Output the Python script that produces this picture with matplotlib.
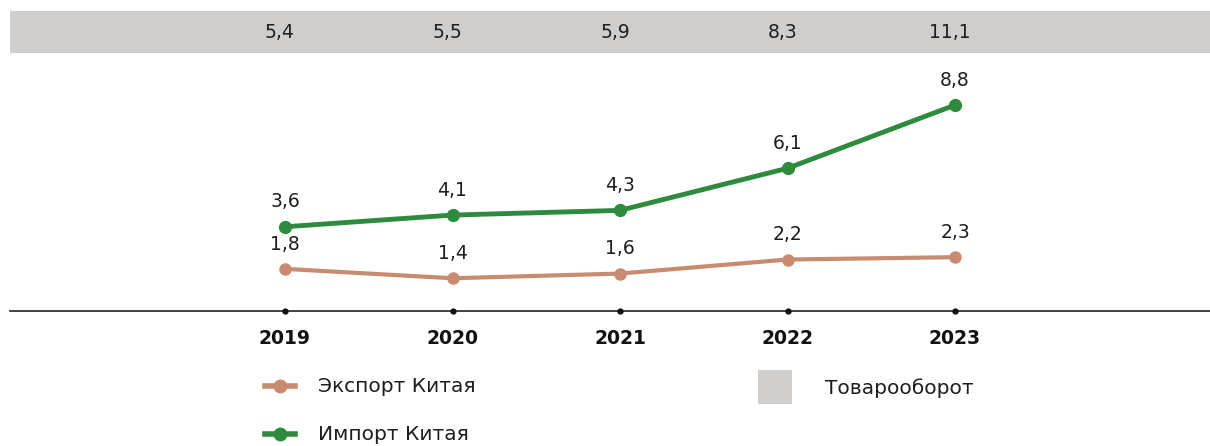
import matplotlib.pyplot as plt
from matplotlib.lines import Line2D
from matplotlib.patches import Rectangle

plt.rcParams['font.family'] = ['DejaVu Sans']

# data
years = ["2019", "2020", "2021", "2022", "2023"]
export_cn = [1.8, 1.4, 1.6, 2.2, 2.3]
import_cn = [3.6, 4.1, 4.3, 6.1, 8.8]
turnover = [5.4, 5.5, 5.9, 8.3, 11.1]

def fmt(v):
    return f"{v:.1f}".replace(".", ",")

c_exp = "#c98b70"
c_imp = "#2e8b3e"
c_band = "#d0cecc"
c_txt = "#1e1e1e"

W, H = 1210, 446
fig = plt.figure(figsize=(W / 100, H / 100), dpi=100)

# axes from x=10..1210 px, y=11..311 px (top coords)
ax = fig.add_axes([10 / W, 1 - 311 / H, 1200 / W, 300 / H])
x = list(range(len(years)))
step = 167.5
ax.set_xlim((10 - 285) / step, (1210 - 285) / step)
ppu = 23.4
ax.set_ylim(0, 300 / ppu)

# gray band with turnover values
ax.axhspan((311 - 53) / ppu, 300 / ppu, color=c_band, lw=0)
for xi, v in zip(x, turnover):
    ax.text(xi - 0.03, (311 - 32) / ppu, fmt(v), ha="center", va="center", fontsize=13.5, color=c_txt)

ax.plot(x, export_cn, color=c_exp, lw=3, marker="o", ms=8, solid_capstyle="round")
ax.plot(x, import_cn, color=c_imp, lw=3.5, marker="o", ms=8.5, solid_capstyle="round")
for xi, v in zip(x, export_cn):
    ax.annotate(fmt(v), (xi, v), xytext=(0, 11), textcoords="offset points",
                ha="center", va="bottom", fontsize=13.5, color=c_txt)
for xi, v in zip(x, import_cn):
    ax.annotate(fmt(v), (xi, v), xytext=(0, 11), textcoords="offset points",
                ha="center", va="bottom", fontsize=13.5, color=c_txt)

# axis line with dot ticks
ax.axhline(0, color="#222222", lw=1.2, clip_on=False)
ax.plot(x, [0] * len(x), "o", color="#111111", ms=3.5, clip_on=False)
for xi, y in zip(x, years):
    ax.text(xi, -27 / ppu, y, ha="center", va="center", fontsize=13.5, fontweight="heavy", color="#111111")

for s in ax.spines.values():
    s.set_visible(False)
ax.set_xticks([])
ax.set_yticks([])

# legend drawn manually in figure pixels
def fx(px):
    return px / W

def fy(py):
    return 1 - py / H

for py, col, lab in [(386, c_exp, "Экспорт Китая"), (434, c_imp, "Импорт Китая")]:
    fig.add_artist(Line2D([fx(265), fx(295)], [fy(py), fy(py)], color=col, lw=4))
    fig.add_artist(Line2D([fx(280)], [fy(py)], color=col, marker="o", ms=9))
    fig.text(fx(318), fy(py), lab, ha="left", va="center", fontsize=14.5, color=c_txt)

fig.add_artist(Rectangle((fx(758), fy(404)), 34 / W, 34 / H, color=c_band, lw=0))
fig.text(fx(825), fy(388), "Товарооборот", ha="left", va="center", fontsize=14.5, color=c_txt)

fig.savefig("out.png", dpi=100)
